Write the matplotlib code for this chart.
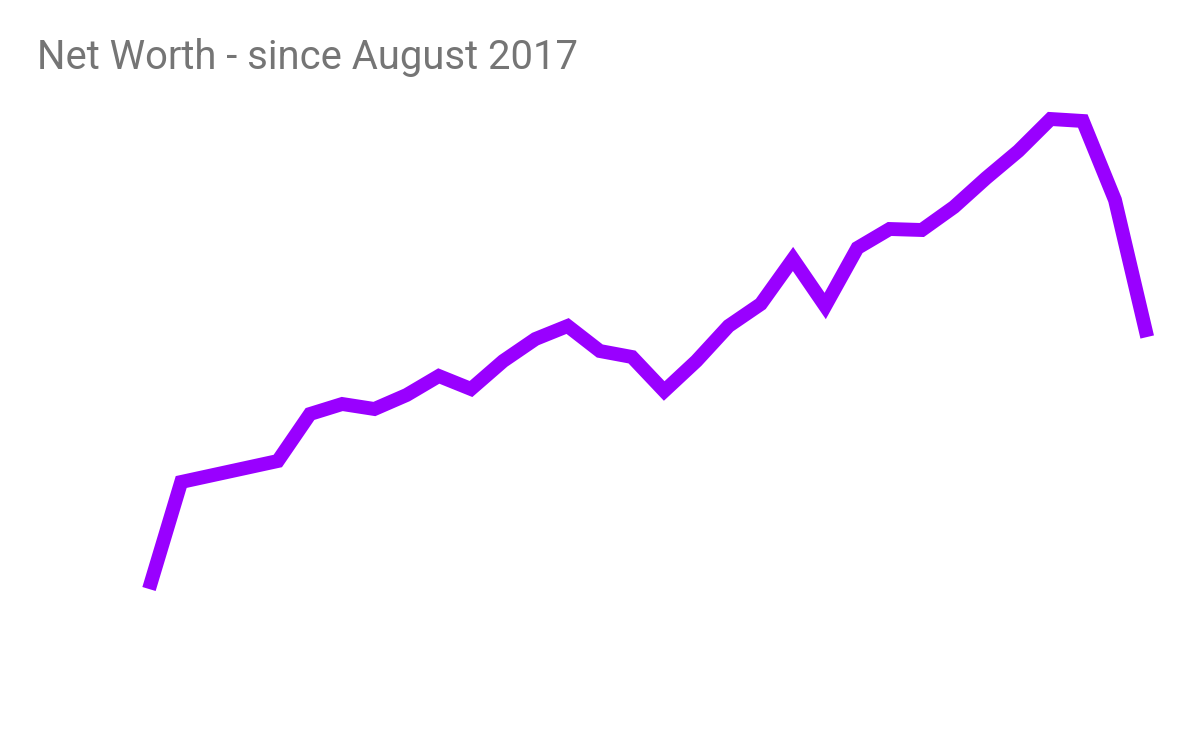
import matplotlib
matplotlib.use("Agg")
import matplotlib.pyplot as plt

# monthly net worth since August 2017 (arbitrary units)
months = list(range(32))
net_worth = [153, 260, 267, 274, 281, 328, 338, 333, 347, 366,
             353, 381, 403, 416, 391, 385, 351, 381, 416, 438,
             483, 436, 494, 513, 512, 535, 564, 591, 623, 621,
             542, 405]

title = "Net Worth - since August 2017"

fig = plt.figure(figsize=(12, 7.42), dpi=100)
ax = fig.add_axes([0, 0, 1, 1])

ax.plot(months, net_worth, color="#9900ff", linewidth=10,
        solid_joinstyle="miter", solid_capstyle="butt")

# place the line like the original chart area
step = 32.2
ax.set_xlim(-149 / step, (1200 - 149) / step)
ax.set_ylim(0, 742)
ax.axis("off")

fig.text(37 / 1200, 1 - 69 / 742, title, fontsize=28.8, color="#757575",
         family="Roboto", ha="left", va="baseline")

fig.savefig("out.png", dpi=100, facecolor="white")
